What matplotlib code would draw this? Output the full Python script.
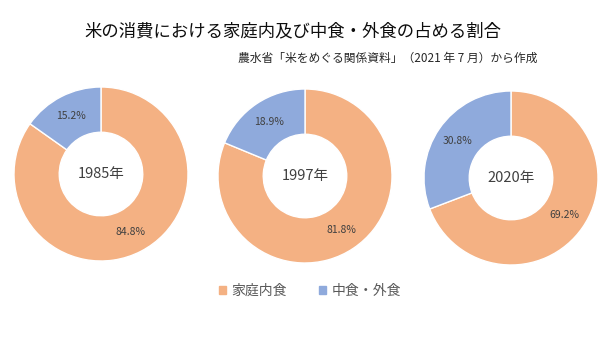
import matplotlib.pyplot as plt

plt.rcParams['font.family'] = ['Noto Sans CJK JP', 'DejaVu Sans']

years = ['1985年', '1997年', '2020年']
home = [84.8, 81.8, 69.2]
outside = [15.2, 18.9, 30.8]
categories = ['家庭内食', '中食・外食']
colors = ['#F4B183', '#8FAADC']
text_color = '#404040'

W, H = 610, 343
fig = plt.figure(figsize=(W / 100, H / 100), dpi=100)
fig.patch.set_facecolor('white')

# donut centres and radius in pixels
centers = [(101, 174), (305, 176), (511, 178)]
R = 87

for year, h, o, (cx, cy) in zip(years, home, outside, centers):
    ax = fig.add_axes([(cx - R) / W, (H - cy - R) / H, 2 * R / W, 2 * R / H])
    wedges, _, autotexts = ax.pie(
        [h, o], colors=colors, startangle=90, counterclock=False,
        radius=1, autopct='%.1f%%', pctdistance=0.75,
        wedgeprops=dict(width=0.52, edgecolor='white', linewidth=1),
        textprops=dict(color=text_color, fontsize=7.5))
    for t, v in zip(autotexts, [h, o]):
        t.set_text(f'{v:.1f}%')
    ax.text(0, 0, year, ha='center', va='center', fontsize=10.5, color=text_color)
    ax.set_xlim(-1, 1)
    ax.set_ylim(-1, 1)
    ax.set_aspect('equal')
    ax.axis('off')

fig.text(293 / W, 1 - 31 / H, '米の消費における家庭内及び中食・外食の占める割合',
         ha='center', va='center', fontsize=12.5, color='#0d0d0d')
fig.text(537 / W, 1 - 58 / H, '農水省「米をめぐる関係資料」（2021 年 7 月）から作成',
         ha='right', va='center', fontsize=8.5, color='#262626')

handles = [plt.Rectangle((0, 0), 1, 1, color=c) for c in colors]
fig.legend(handles, categories, loc='center', bbox_to_anchor=(310 / W, 1 - 291 / H),
           ncol=2, frameon=False, fontsize=10, labelcolor='#595959',
           handlelength=0.5, handleheight=0.5, columnspacing=2.3, handletextpad=0.4)

fig.savefig('out.png', dpi=100, facecolor='white')
